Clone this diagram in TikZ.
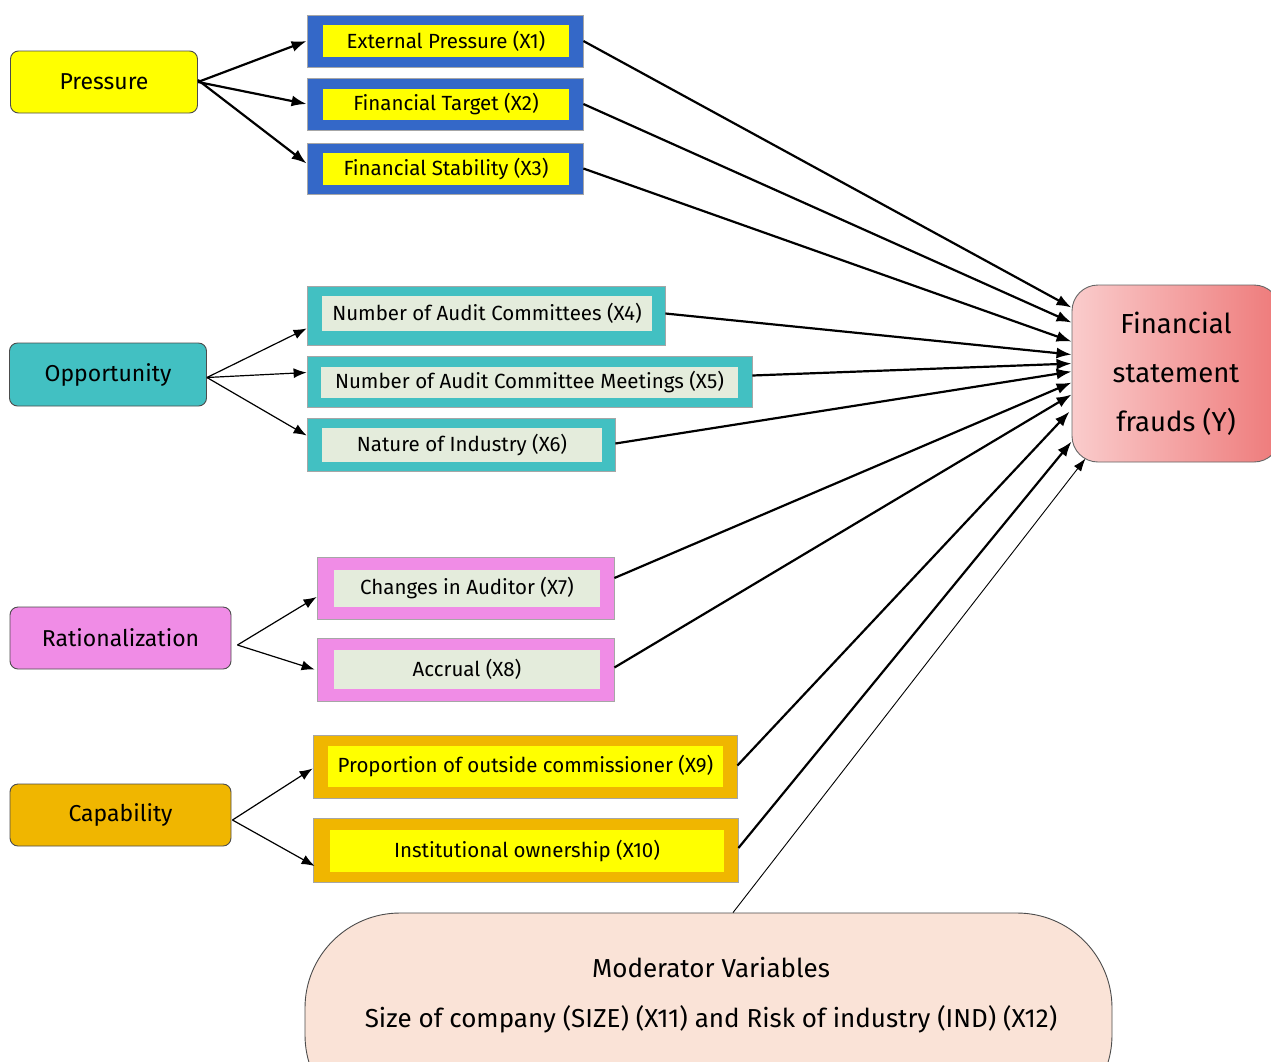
\documentclass[tikz,border=0pt]{standalone}
\usepackage{fontspec}
\setmainfont{Fira Sans}
\usetikzlibrary{arrows.meta,calc}
\definecolor{presyel}{RGB}{255,255,0}
\definecolor{presblue}{RGB}{52,104,200}
\definecolor{oppteal}{RGB}{66,192,194}
\definecolor{innergreen}{RGB}{228,236,220}
\definecolor{ratpink}{RGB}{240,140,230}
\definecolor{capgold}{RGB}{240,182,0}
\definecolor{fraudlight}{RGB}{250,204,204}
\definecolor{frauddark}{RGB}{238,122,122}
\definecolor{modpeach}{RGB}{250,227,215}
\tikzset{
  catbox/.style={draw=black!70,line width=0.9pt,rounded corners=8pt,
    font=\fontsize{23}{26}\selectfont},
  outbox/.style={draw=black!35,line width=0.8pt},
  inbox/.style={inner sep=0pt,font=\fontsize{20.5}{24}\selectfont},
  bigarr/.style={-{Latex[length=15pt,width=11pt]},line width=2.2pt},
  smallarr/.style={-{Latex[length=13pt,width=10pt]},line width=1.2pt}
}
\begin{document}
\begin{tikzpicture}[x=1pt,y=-1pt]
  \path[use as bounding box,clip] (0,0) rectangle (1271,1061);
  \fill[white] (0,0) rectangle (1271,1061);
  %Pressure
  \node[catbox,fill=presyel,minimum width=187pt,minimum height=62pt] (pr) at (104,82) {Pressure};
  \node[outbox,fill=presblue,minimum width=276pt,minimum height=52pt] (x1) at (445,41) {};
  \node[inbox,fill=presyel,minimum width=246pt,minimum height=32pt] (x1t) at (446,41) {External Pressure (X1)};
  \node[outbox,fill=presblue,minimum width=276pt,minimum height=52pt] (x2) at (445,104) {};
  \node[inbox,fill=presyel,minimum width=246pt,minimum height=31pt] (x2t) at (446,104.5) {Financial Target (X2)};
  \node[outbox,fill=presblue,minimum width=276pt,minimum height=51pt] (x3) at (445,168.5) {};
  \node[inbox,fill=presyel,minimum width=246pt,minimum height=32pt] (x3t) at (446,169) {Financial Stability (X3)};
  %Opportunity
  \node[catbox,fill=oppteal,minimum width=197pt,minimum height=63pt] (op) at (108,374.5) {Opportunity};
  \node[outbox,fill=oppteal,minimum width=358pt,minimum height=59pt] (x4) at (486,315.5) {};
  \node[inbox,fill=innergreen,minimum width=330pt,minimum height=35pt] (x4t) at (487,313.5) {Number of Audit Committees (X4)};
  \node[outbox,fill=oppteal,minimum width=445pt,minimum height=51pt] (x5) at (529.5,381.5) {};
  \node[inbox,fill=innergreen,minimum width=417pt,minimum height=31pt] (x5t) at (529.5,382.5) {Number of Audit Committee Meetings (X5)};
  \node[outbox,fill=oppteal,minimum width=308pt,minimum height=53pt] (x6) at (461,444.5) {};
  \node[inbox,fill=innergreen,minimum width=280pt,minimum height=34pt] (x6t) at (462,445) {Nature of Industry (X6)};
  %Rationalization
  \node[catbox,fill=ratpink,minimum width=221pt,minimum height=62pt] (ra) at (120.5,638) {Rationalization};
  \node[outbox,fill=ratpink,minimum width=297pt,minimum height=62pt] (x7) at (465.5,588) {};
  \node[inbox,fill=innergreen,minimum width=266pt,minimum height=37pt] (x7t) at (467,588.5) {Changes in Auditor (X7)};
  \node[outbox,fill=ratpink,minimum width=297pt,minimum height=63pt] (x8) at (465.5,669.5) {};
  \node[inbox,fill=innergreen,minimum width=266pt,minimum height=39pt] (x8t) at (467,669.5) {Accrual (X8)};
  %Capability
  \node[catbox,fill=capgold,minimum width=221pt,minimum height=62pt] (ca) at (120.5,815) {Capability};
  \node[outbox,fill=capgold,minimum width=424pt,minimum height=63pt] (x9) at (525,766.5) {};
  \node[inbox,fill=presyel,minimum width=395pt,minimum height=41pt] (x9t) at (525.5,766.5) {Proportion of outside commissioner (X9)};
  \node[outbox,fill=capgold,minimum width=425pt,minimum height=64pt] (x10) at (525.5,850) {};
  \node[inbox,fill=presyel,minimum width=394pt,minimum height=42pt] (x10t) at (527,851) {Institutional ownership (X10)};
  %Financial statement frauds
  \node[draw=black!60,line width=0.9pt,rounded corners=26pt,left color=fraudlight,right color=frauddark,
    minimum width=208pt,minimum height=177pt,align=center,font=\fontsize{27.5}{49}\selectfont] (Y) at (1176,373.5)
    {Financial\\statement\\frauds (Y)};
  %Moderator
  \node[draw=black!70,line width=0.9pt,fill=modpeach,rounded corners=95pt,
    minimum width=807pt,minimum height=217pt] (mod) at (708.5,1021.5) {};
  \node[align=center,font=\fontsize{26}{50}\selectfont] (modtxt) at (711,995)
    {Moderator Variables\\Size of company (SIZE) (X11) and Risk of industry (IND) (X12)};
  %Arrows from categories
  \draw[bigarr] (pr.east) -- (x1.west);
  \draw[bigarr] (pr.east) -- (x2.west);
  \draw[bigarr] ($(pr.east)+(0,-2)$) -- ($(x3.west)+(0,-5)$);
  \draw[smallarr] ($(op.east)+(0,3)$) -- ($(x4.west)+(0,13)$);
  \draw[smallarr] ($(op.east)+(0,3)$) -- ($(x5.west)+(0,-9)$);
  \draw[smallarr] ($(op.east)+(0,3)$) -- ($(x6.west)+(0,-9)$);
  \draw[smallarr] ($(ra.east)+(6,7)$) -- ($(x7.west)+(0,9)$);
  \draw[smallarr] ($(ra.east)+(6,7)$) -- ($(x8.west)+(-2,0)$);
  \draw[smallarr] ($(ca.east)+(1,5)$) -- ($(x9.west)+(0,2)$);
  \draw[smallarr] ($(ca.east)+(1,5)$) -- ($(x10.west)+(2,16)$);
  %Arrows into Y
  \draw[bigarr] (x1.east) -- ($(Y.north west)+(0,23)$);
  \draw[bigarr] (x2.east) -- ($(Y.north west)+(0,38)$);
  \draw[bigarr] (x3.east) -- ($(Y.north west)+(0,57)$);
  \draw[bigarr] ($(x4.east)+(0,-2)$) -- ($(Y.north west)+(0,70)$);
  \draw[bigarr] ($(x5.east)+(0,-6)$) -- ($(Y.north west)+(0,79)$);
  \draw[bigarr] ($(x6.east)+(0,-1)$) -- ($(Y.north west)+(0,87)$);
  \draw[bigarr] ($(x7.east)+(0,-10)$) -- ($(Y.north west)+(0,98)$);
  \draw[bigarr] ($(x8.east)+(0,-2)$) -- ($(Y.north west)+(0,110)$);
  \draw[bigarr] ($(x9.east)+(0,-1)$) -- ($(Y.north west)+(-2,127)$);
  \draw[bigarr] ($(x10.east)+(0,-2)$) -- ($(Y.north west)+(0,157)$);
  \draw[-{Latex[length=13pt,width=9pt]},line width=0.9pt] ($(mod.north)+(24.5,0)$) -- ($(Y.south west)+(14,-4)$);
\end{tikzpicture}
\end{document}
